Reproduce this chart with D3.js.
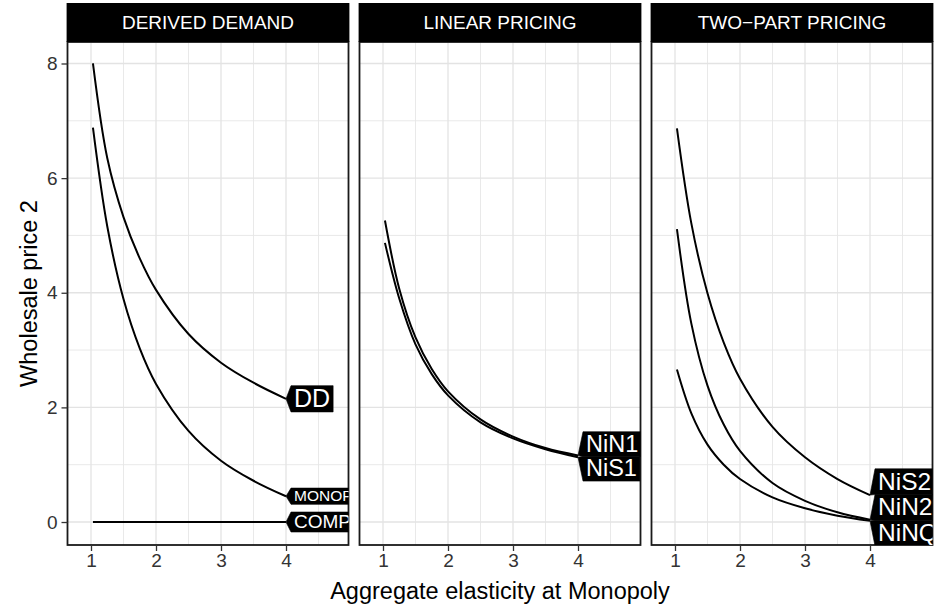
<!DOCTYPE html>
<html>
<head>
<meta charset="utf-8">
<script src="https://cdn.jsdelivr.net/npm/d3@7"></script>
<style>
  body { margin: 0; background: #fff; }
  svg { display: block; font-family: "Liberation Sans", Arial, Helvetica, sans-serif; }
</style>
</head>
<body>
<svg id="chart" width="940" height="611"></svg>
<script>
// Facet titles
const panelTitles = ["DERIVED DEMAND", "LINEAR PRICING", "TWO\u2212PART PRICING"];

// Aggregate elasticity grid shared by every curve
const elasticity = [1.03, 1.25, 1.5, 1.75, 2, 2.5, 3, 3.5, 4.0];

// Wholesale price 2 per curve
const ddPrice    = [8.00, 6.35, 5.32, 4.60, 4.05, 3.28, 2.78, 2.43, 2.15];
const monopPrice = [6.88, 5.16, 3.89, 3.03, 2.41, 1.59, 1.07, 0.72, 0.45];
const compPrice  = [0.00, 0.00, 0.00, 0.00, 0.00, 0.00, 0.00, 0.00, 0.00];
const nin1Price  = [5.26, 4.07, 3.22, 2.67, 2.28, 1.79, 1.49, 1.29, 1.16];
const nis1Price  = [4.87, 3.90, 3.10, 2.58, 2.21, 1.74, 1.46, 1.27, 1.13];
const nis2Price  = [6.87, 5.22, 3.99, 3.13, 2.50, 1.66, 1.13, 0.75, 0.47];
const nin2Price  = [5.11, 3.47, 2.38, 1.70, 1.24, 0.68, 0.37, 0.17, 0.04];
const ninqPrice  = [2.66, 1.90, 1.35, 1.00, 0.75, 0.43, 0.24, 0.11, 0.02];

const curveNames  = ["DD", "MONOP", "COMP", "NiN1", "NiS1", "NiS2", "NiN2", "NiNQ"];
const curvePanels = [0, 0, 0, 1, 1, 2, 2, 2];
const curveValues = [ddPrice, monopPrice, compPrice, nin1Price, nis1Price, nis2Price, nin2Price, ninqPrice];

// Axis ticks
const xTicks = [1, 2, 3, 4];
const xMinor = [1.5, 2.5, 3.5, 4.5];
const yTicks = [0, 2, 4, 6, 8];
const yMinor = [1, 3, 5, 7];

// ---- layout & style ----
const panelW = 281, gap = 11, left0 = 67.5;
const stripTop = 3, panelTop = 42, panelBottom = 545;
const labelFont = { DD: 25, MONOP: 15.5, COMP: 19, NiN1: 23.5, NiS1: 23.5, NiS2: 24.5, NiN2: 24.5, NiNQ: 24.5 };
const tipDepth = 5, textPad = 3;

const svg = d3.select("#chart");

const x = d3.scaleLinear().domain([0.6385, 4.9615]).range([0, panelW]);
const y = d3.scaleLinear().domain([-0.401, 8.375]).range([panelBottom, panelTop]);

const line = d3.line()
  .x(d => x(d[0]))
  .y(d => y(d[1]))
  .curve(d3.curveCatmullRom.alpha(0.5));

// text width measurement
const measurer = svg.append("text").attr("visibility", "hidden");
function textWidth(str, size) {
  measurer.attr("font-size", size).text(str);
  return measurer.node().getComputedTextLength();
}

panelTitles.forEach((title, p) => {
  const px = left0 + p * (panelW + gap);
  const g = svg.append("g").attr("transform", `translate(${px},0)`);

  const clipId = "clip" + p;
  svg.append("clipPath").attr("id", clipId)
    .append("rect").attr("x", px).attr("y", panelTop).attr("width", panelW).attr("height", panelBottom - panelTop);

  // panel background
  g.append("rect").attr("x", 0).attr("y", panelTop).attr("width", panelW).attr("height", panelBottom - panelTop)
    .attr("fill", "#fff");

  // grid
  const grid = g.append("g");
  xMinor.forEach(v => grid.append("line").attr("x1", x(v)).attr("x2", x(v)).attr("y1", panelTop).attr("y2", panelBottom)
    .attr("stroke", "#E6E6E6").attr("stroke-width", 0.9));
  yMinor.forEach(v => grid.append("line").attr("x1", 0).attr("x2", panelW).attr("y1", y(v)).attr("y2", y(v))
    .attr("stroke", "#E6E6E6").attr("stroke-width", 0.9));
  xTicks.forEach(v => grid.append("line").attr("x1", x(v)).attr("x2", x(v)).attr("y1", panelTop).attr("y2", panelBottom)
    .attr("stroke", "#E3E3E3").attr("stroke-width", 1.3));
  yTicks.forEach(v => grid.append("line").attr("x1", 0).attr("x2", panelW).attr("y1", y(v)).attr("y2", y(v))
    .attr("stroke", "#E3E3E3").attr("stroke-width", 1.3));

  // curves and labels (clipped to the panel)
  const inner = svg.append("g").attr("clip-path", `url(#${clipId})`)
    .append("g").attr("transform", `translate(${px},0)`);

  const idx = curvePanels.map((pp, i) => pp === p ? i : -1).filter(i => i >= 0);
  idx.forEach(i => {
    const pts = elasticity.map((e, k) => [e, curveValues[i][k]]);
    inner.append("path").attr("d", line(pts)).attr("fill", "none")
      .attr("stroke", "#000").attr("stroke-width", 2);
  });

  // label boxes at curve ends, stacked to avoid overlap and kept inside the panel
  const labels = idx.map(i => {
    const vals = curveValues[i];
    const fs = labelFont[curveNames[i]];
    return {
      name: curveNames[i], fs,
      tipX: x(elasticity[elasticity.length - 1]),
      tipY: y(vals[vals.length - 1]),
      h: fs * 1.05
    };
  }).sort((a, b) => a.tipY - b.tipY);

  const place = c => {
    let cum = 0, s = 0;
    c.items.forEach(it => { s += it.tipY - (cum + it.h / 2); cum += it.h; });
    c.top = s / c.items.length; c.total = cum;
    if (c.items.length > 1) c.top = Math.min(c.top, panelBottom + 1 - c.total);
  };
  let clusters = [];
  labels.forEach(l => {
    clusters.push({ items: [l] });
    place(clusters[clusters.length - 1]);
    while (clusters.length > 1) {
      const a = clusters[clusters.length - 2], b = clusters[clusters.length - 1];
      if (a.top + a.total > b.top) {
        const m = { items: a.items.concat(b.items) };
        place(m);
        clusters.splice(clusters.length - 2, 2, m);
      } else break;
    }
  });
  clusters.forEach(c => {
    let cum = c.top;
    c.items.forEach(it => { it.boxTop = cum; cum += it.h; });
  });

  labels.forEach(l => {
    const bx = l.tipX + tipDepth;
    const w = textWidth(l.name, l.fs) + textPad * 2;
    const pts = [[l.tipX, l.tipY], [bx, l.boxTop], [bx + w, l.boxTop], [bx + w, l.boxTop + l.h], [bx, l.boxTop + l.h]];
    inner.append("polygon").attr("points", pts.map(q => q.join(",")).join(" "))
      .attr("fill", "#000").attr("stroke", "#000").attr("stroke-width", 0.6);
  });
  labels.forEach(l => {
    inner.append("text")
      .attr("x", l.tipX + tipDepth + textPad)
      .attr("y", l.boxTop + l.h / 2 + l.fs * 0.33)
      .attr("font-size", l.fs).attr("fill", "#fff")
      .text(l.name);
  });

  // panel border
  g.append("rect").attr("x", 0).attr("y", panelTop).attr("width", panelW).attr("height", panelBottom - panelTop)
    .attr("fill", "none").attr("stroke", "#1a1a1a").attr("stroke-width", 1.8);

  // strip
  g.append("rect").attr("x", -0.9).attr("y", stripTop).attr("width", panelW + 1.8).attr("height", panelTop - stripTop)
    .attr("fill", "#000");
  g.append("text").attr("x", panelW / 2).attr("y", (stripTop + panelTop) / 2 + 6.8)
    .attr("text-anchor", "middle").attr("font-size", 19).attr("fill", "#fff").text(title);

  // x axis
  const xa = g.append("g").attr("transform", `translate(0,${panelBottom})`)
    .call(d3.axisBottom(x).tickValues(xTicks).tickSize(6).tickPadding(3).tickFormat(d3.format("d")));
  xa.select(".domain").remove();
  xa.selectAll(".tick line").attr("stroke", "#333").attr("stroke-width", 1.3);
  xa.selectAll(".tick text").attr("font-size", 19).attr("fill", "#333").attr("font-family", null);

  if (p === 0) {
    const ya = g.append("g")
      .call(d3.axisLeft(y).tickValues(yTicks).tickSize(6).tickPadding(4).tickFormat(d3.format("d")));
    ya.select(".domain").remove();
    ya.selectAll(".tick line").attr("stroke", "#333").attr("stroke-width", 1.3);
    ya.selectAll(".tick text").attr("font-size", 19).attr("fill", "#333").attr("font-family", null);
  }
});

// axis titles
const plotLeft = left0, plotRight = left0 + 3 * panelW + 2 * gap;
svg.append("text").attr("x", (plotLeft + plotRight) / 2).attr("y", 599)
  .attr("text-anchor", "middle").attr("font-size", 23.5).attr("fill", "#000")
  .text("Aggregate elasticity at Monopoly");
svg.append("text")
  .attr("transform", `translate(37,${(panelTop + panelBottom) / 2}) rotate(-90)`)
  .attr("text-anchor", "middle").attr("font-size", 23.5).attr("fill", "#000")
  .text("Wholesale price 2");

measurer.remove();
</script>
</body>
</html>
